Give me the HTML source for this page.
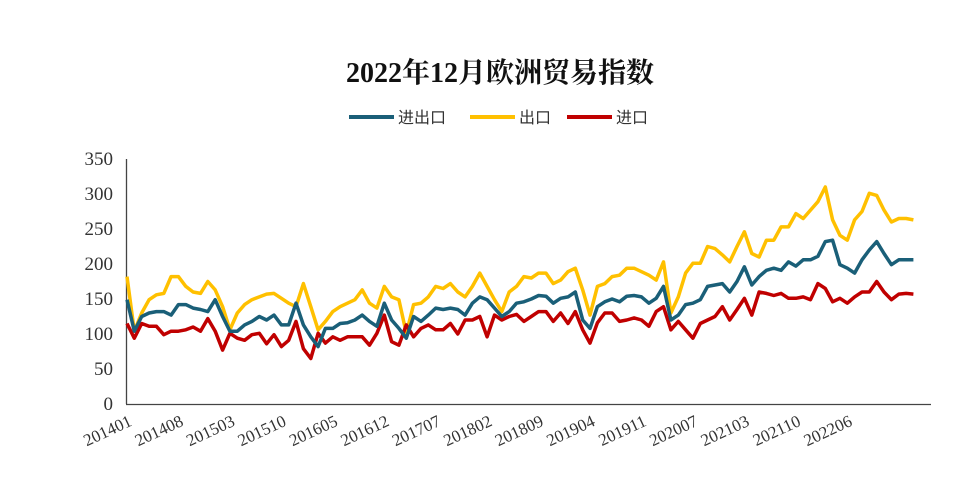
<!DOCTYPE html>
<html><head><meta charset="utf-8"><style>
html,body{margin:0;padding:0;background:#fff}
svg{display:block}
text{font-family:"Liberation Serif","Noto Serif CJK SC",serif;fill:#333}
</style></head><body>
<svg id="c" width="967" height="487" viewBox="0 0 967 487">
<text x="500" y="82" text-anchor="middle" style="font-size:28px;font-weight:bold;fill:#111">2022年12月欧洲贸易指数</text>
<line x1="349" y1="117" x2="394" y2="117" stroke="#1a5f78" stroke-width="4"/>
<text x="398" y="123" style="font-size:16px;font-family:'Liberation Sans','Noto Sans CJK SC',sans-serif">进出口</text>
<line x1="470" y1="117" x2="515" y2="117" stroke="#ffc000" stroke-width="4"/>
<text x="519" y="123" style="font-size:16px;font-family:'Liberation Sans','Noto Sans CJK SC',sans-serif">出口</text>
<line x1="567" y1="117" x2="612" y2="117" stroke="#c00000" stroke-width="4"/>
<text x="616" y="123" style="font-size:16px;font-family:'Liberation Sans','Noto Sans CJK SC',sans-serif">进口</text>
<line x1="126.5" y1="159" x2="126.5" y2="404" stroke="#444" stroke-width="1.3"/>
<line x1="126" y1="404.5" x2="931" y2="404.5" stroke="#444" stroke-width="1.3"/>
<g id="yl"></g><g id="xl"></g><g id="ln"></g>
</svg>
<script>
var Y=[182,104,130,149,156,158,182,182,168,160,158,175,163,139,106,130,142,149,153,157,158,151,144,139,172,139,106,118,132,139,144,149,163,144,137,168,153,149,101,142,144,153,168,165,172,160,153,168,187,168,149,132,160,168,182,180,187,187,172,177,189,194,163,127,168,172,182,184,194,194,189,184,177,203,130,153,187,201,201,225,222,213,203,225,246,215,210,234,234,253,253,272,265,277,289,310,263,241,234,263,275,301,298,277,260,265,265,263];
var B=[149,104,125,130,132,132,127,142,142,137,135,132,149,125,104,104,113,118,125,120,127,113,113,144,113,96,82,108,108,115,116,120,127,118,111,144,120,108,94,125,118,127,137,135,137,135,127,144,153,149,137,125,132,144,146,150,155,154,144,151,153,160,120,108,139,146,150,146,154,155,153,144,151,168,120,127,142,144,149,168,170,172,160,175,196,170,182,191,194,191,203,197,206,206,211,232,234,199,194,187,206,220,232,215,199,206,206,206];
var R=[115,94,115,111,111,99,104,104,106,110,104,122,104,77,101,94,91,99,101,86,99,82,91,118,79,65,101,87,96,91,96,96,96,84,101,127,89,84,113,96,108,113,106,106,115,100,120,120,125,96,127,120,125,128,118,125,132,132,118,130,115,132,106,87,116,130,130,118,120,123,120,111,132,139,106,118,106,94,115,120,125,139,120,135,151,127,160,158,155,158,151,151,153,149,172,165,146,151,144,153,160,160,175,160,149,157,158,157];
var NS="http://www.w3.org/2000/svg";
function px(i){return 127+7.35*i}function py(v){return 404-v*0.7}
function el(t,a,p,txt){var e=document.createElementNS(NS,t);for(var k in a)e.setAttribute(k,a[k]);if(txt)e.textContent=txt;document.getElementById(p).appendChild(e);}
for(var v=0;v<=350;v+=50)el("text",{x:113,y:py(v)+6,"text-anchor":"end","font-size":"19"},"yl",String(v));
var L=["201401","201408","201503","201510","201605","201612","201707","201802","201809","201904","201911","202007","202103","202110","202206"];
L.forEach(function(s,k){var x=px(k*7)+6,y=425;el("text",{x:x,y:y,"text-anchor":"end","font-size":"17",transform:"rotate(-25 "+x+" "+y+")"},"xl",s);});
[[Y,"#ffc000"],[R,"#c00000"],[B,"#1a5f78"]].forEach(function(s){var d=s[0].map(function(v,i){return(i?"L":"M")+px(i).toFixed(1)+","+py(v).toFixed(1)}).join("");el("path",{d:d,fill:"none",stroke:s[1],"stroke-width":"3.5","stroke-linejoin":"round"},"ln");});
</script>
</body></html>
